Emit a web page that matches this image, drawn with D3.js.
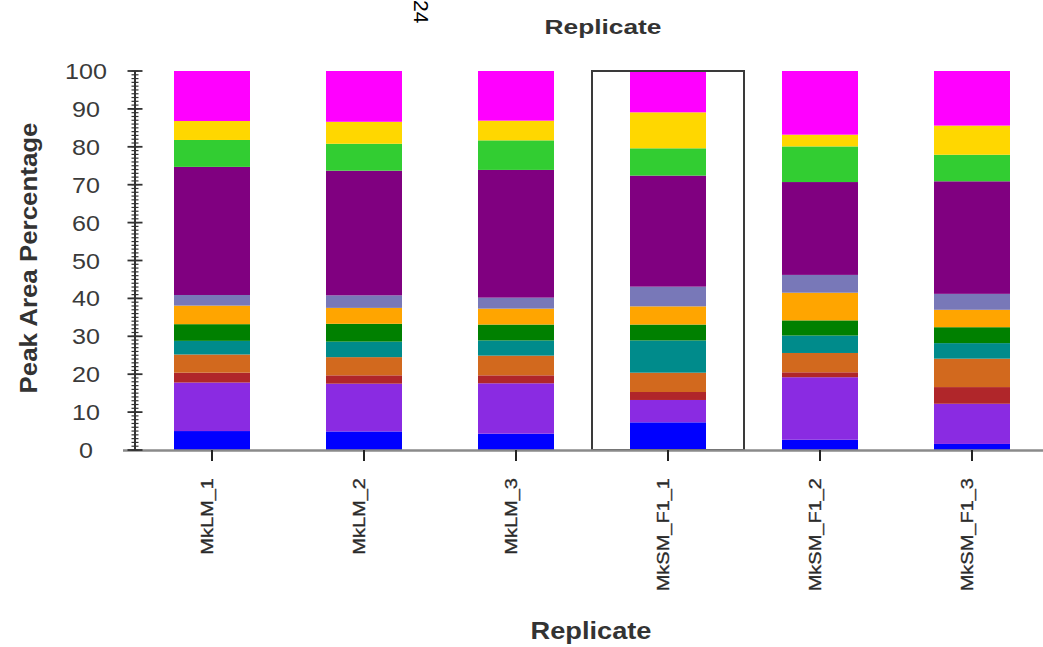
<!DOCTYPE html>
<html>
<head>
<meta charset="utf-8">
<script src="https://cdn.jsdelivr.net/npm/d3@7/dist/d3.min.js"></script>
<style>
  html, body { margin: 0; padding: 0; background: #fff; }
  svg { display: block; font-family: "Liberation Sans", Arial, sans-serif; }
</style>
</head>
<body>
<svg id="chart" width="1043" height="647"></svg>
<script>
// ---- data ----
const categories = ["MkLM_1", "MkLM_2", "MkLM_3", "MkSM_F1_1", "MkSM_F1_2", "MkSM_F1_3"];
const seriesNames = ["C1", "C2", "C3", "C4", "C5", "C6", "C7", "C8", "C9", "C10", "C11", "C12"];
const s1  = [5.0, 4.9, 4.3, 7.3, 2.7, 1.6];
const s2  = [12.8, 12.6, 13.3, 5.9, 16.5, 10.6];
const s3  = [2.6, 2.2, 2.1, 2.1, 1.3, 4.4];
const s4  = [4.8, 4.8, 5.2, 5.1, 5.1, 7.5];
const s5  = [3.6, 4.1, 4.0, 8.5, 4.6, 4.1];
const s6  = [4.4, 4.7, 4.2, 4.2, 4.0, 4.2];
const s7  = [4.9, 4.2, 4.2, 4.8, 7.3, 4.6];
const s8  = [2.8, 3.3, 2.9, 5.2, 4.7, 4.2];
const s9  = [33.8, 32.9, 33.7, 29.3, 24.5, 29.7];
const s10 = [7.1, 7.1, 7.8, 7.2, 9.4, 7.0];
const s11 = [5.0, 5.8, 5.2, 9.5, 3.1, 7.7];
const s12 = [13.2, 13.4, 13.1, 10.9, 16.8, 14.4];
const seriesValues = [s1, s2, s3, s4, s5, s6, s7, s8, s9, s10, s11, s12];
const yTicks = [0, 10, 20, 30, 40, 50, 60, 70, 80, 90, 100];
const highlighted = "MkSM_F1_1";
const xTitle = "Replicate";
const yTitle = "Peak Area Percentage";
const pageNumber = "24";

const colors = ["#0000FF", "#8A2BE2", "#B0262A", "#D2691E", "#008B8B", "#008000",
                "#FFA500", "#7878B8", "#800080", "#32CD32", "#FFD700", "#FF00FF"];

// ---- build table ----
const table = categories.map((c, i) => {
  const row = { cat: c };
  seriesNames.forEach((s, k) => row[s] = seriesValues[k][i]);
  return row;
});
const stacked = d3.stack().keys(seriesNames)(table);

const svg = d3.select("#chart");

const x = d3.scaleBand().domain(categories).range([136, 1048]).paddingInner(0.5).paddingOuter(0.25);
const y = d3.scaleLinear().domain([0, 100]).range([450, 71]);
const color = d3.scaleOrdinal().domain(seriesNames).range(colors);

// bars
svg.append("g").selectAll("g").data(stacked).join("g")
  .attr("fill", d => color(d.key))
  .selectAll("rect").data(d => d).join("rect")
  .attr("x", d => x(d.data.cat))
  .attr("width", x.bandwidth())
  .attr("y", d => y(d[1]))
  .attr("height", d => y(d[0]) - y(d[1]));

// highlight box
svg.append("rect")
  .attr("x", x(highlighted) - x.step() * x.paddingInner() / 2)
  .attr("y", y(100))
  .attr("width", x.step())
  .attr("height", y(0) - y(100))
  .attr("fill", "none")
  .attr("stroke", "#3a3a3a")
  .attr("stroke-width", 2);

// x baseline
svg.append("line")
  .attr("x1", 123).attr("x2", 1043)
  .attr("y1", y(0) + 0.5).attr("y2", y(0) + 0.5)
  .attr("stroke", "#8a8a8a").attr("stroke-width", 2.5);

// x axis ticks & labels
const xAxis = d3.axisBottom(x).tickSize(11).tickPadding(0).tickFormat("");
const gx = svg.append("g").attr("transform", `translate(0,${y(0)})`).call(xAxis);
gx.select(".domain").remove();
gx.selectAll(".tick line").attr("stroke", "#222").attr("stroke-width", 2);

svg.append("g").selectAll("text").data(categories).join("text")
  .attr("transform", d => `translate(${x(d) + x.bandwidth() / 2 + 1},478) rotate(-90) scale(1.25,1)`)
  .attr("text-anchor", "end")
  .attr("font-size", 16)
  .attr("fill", "#2a2a2a")
  .attr("stroke", "#2a2a2a").attr("stroke-width", 0.3)
  .text(d => d);

// y axis
const ax = 135;
const gy = svg.append("g");
gy.append("line").attr("x1", ax).attr("x2", ax).attr("y1", y(100)).attr("y2", y(0))
  .attr("stroke", "#333").attr("stroke-width", 2);
gy.selectAll("line.minor").data(d3.range(0, 101, 1)).join("line")
  .attr("class", "minor")
  .attr("x1", ax - 3.5).attr("x2", ax + 3.5)
  .attr("y1", d => y(d)).attr("y2", d => y(d))
  .attr("stroke", "#333").attr("stroke-width", 1.2);
gy.selectAll("line.major").data(yTicks).join("line")
  .attr("class", "major")
  .attr("x1", ax - 7.5).attr("x2", ax + 7.5)
  .attr("y1", d => y(d)).attr("y2", d => y(d))
  .attr("stroke", "#333").attr("stroke-width", 1.8);
gy.selectAll("text").data(yTicks).join("text")
  .attr("transform", d => `translate(86,${y(d) + 8}) scale(1.14,1)`)
  .attr("text-anchor", "middle")
  .attr("font-size", 22)
  .attr("fill", "#3a3a3a")
  .text(d => d);

// titles
svg.append("text")
  .attr("transform", "translate(37,258) rotate(-90)")
  .attr("text-anchor", "middle")
  .attr("font-size", 24).attr("font-weight", "bold")
  .attr("fill", "#333")
  .attr("textLength", 271).attr("lengthAdjust", "spacingAndGlyphs")
  .text(yTitle);

svg.append("text")
  .attr("x", 591).attr("y", 639)
  .attr("text-anchor", "middle")
  .attr("font-size", 24).attr("font-weight", "bold")
  .attr("fill", "#333")
  .attr("textLength", 121).attr("lengthAdjust", "spacingAndGlyphs")
  .text(xTitle);

svg.append("text")
  .attr("x", 603).attr("y", 34)
  .attr("text-anchor", "middle")
  .attr("font-size", 21).attr("font-weight", "bold")
  .attr("fill", "#333")
  .attr("textLength", 117).attr("lengthAdjust", "spacingAndGlyphs")
  .text(xTitle);

svg.append("text")
  .attr("transform", "translate(414,0) rotate(90)")
  .attr("font-size", 21)
  .attr("fill", "#000")
  .text(pageNumber);
</script>
</body>
</html>
